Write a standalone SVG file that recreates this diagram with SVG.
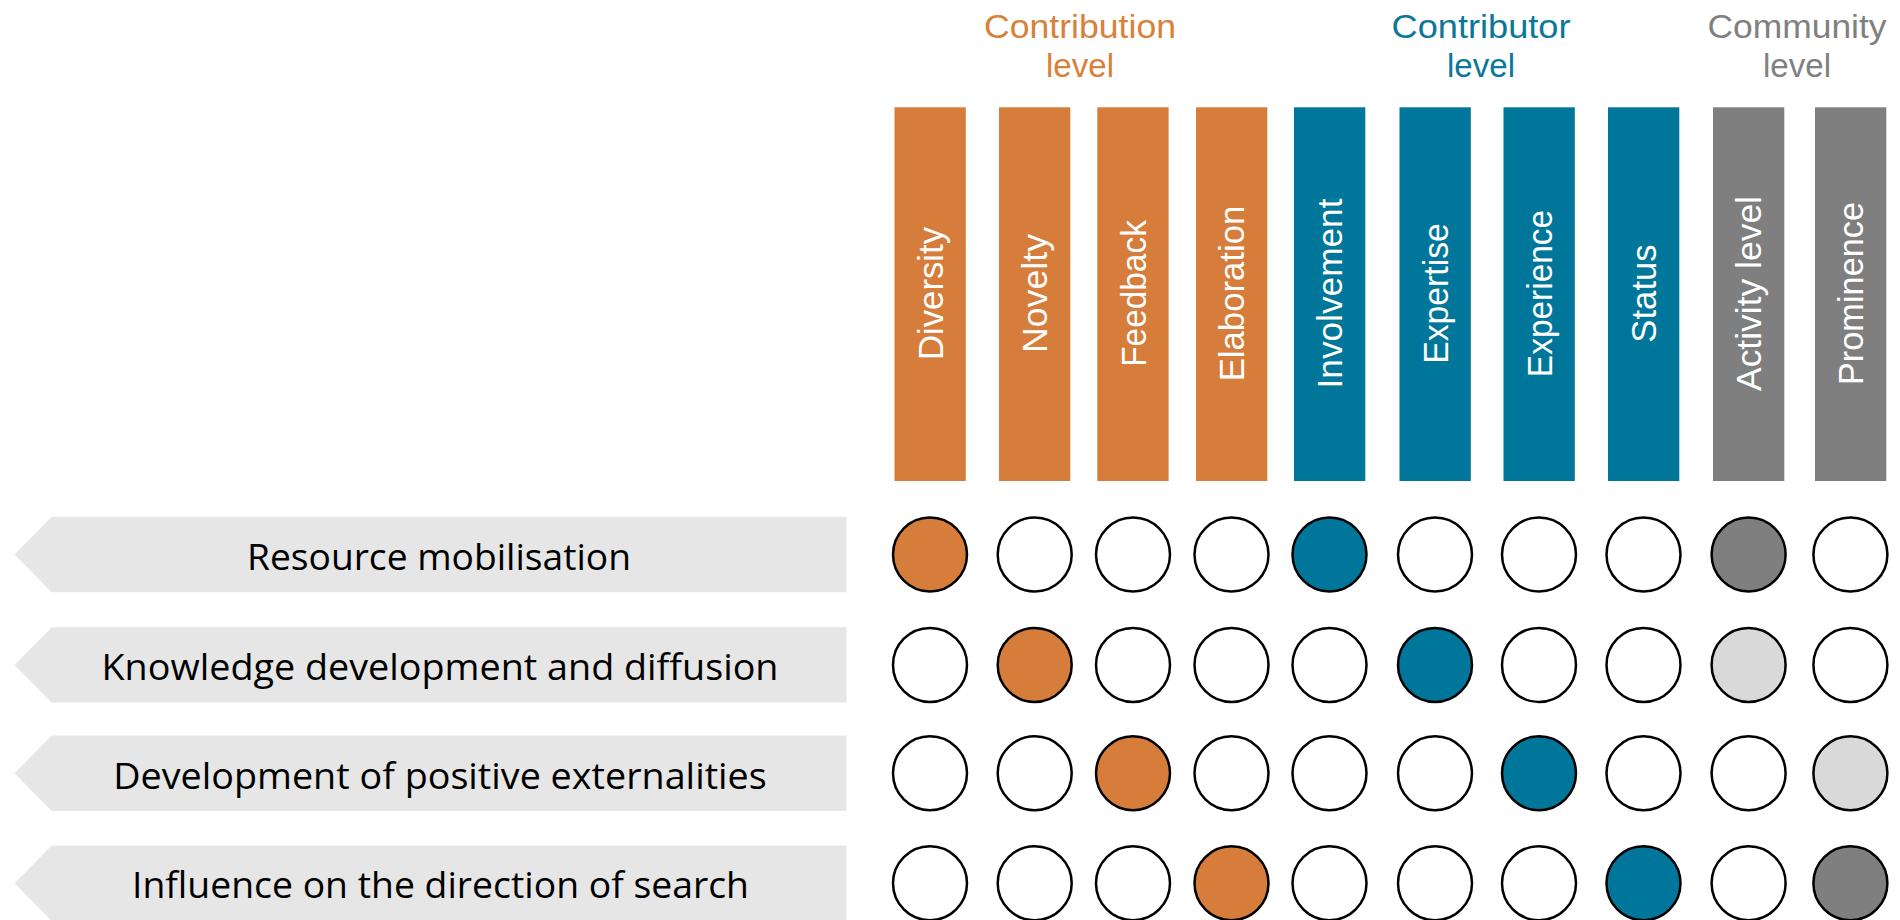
<svg xmlns="http://www.w3.org/2000/svg" width="1900" height="920" viewBox="0 0 1900 920">
<style>
  .bar-o { fill: #D67D3B; }
  .bar-t { fill: #00779A; }
  .bar-g { fill: #7F7F7F; }
  .vlab { font-family: "Liberation Sans", Arial, sans-serif; font-size: 35px; fill: #FFFFFF; text-anchor: middle; }
  .hdr { font-family: "Liberation Sans", Arial, sans-serif; font-size: 34px; text-anchor: middle; }
  .hdr-o { fill: #D98039; }
  .hdr-t { fill: #0B7799; }
  .hdr-g { fill: #808080; }
  .arrow { fill: #E6E6E6; }
  .rlab { font-family: "Open Sans", "Liberation Sans", sans-serif; font-size: 37px; fill: #000000; text-anchor: middle; }
  .dot { stroke: #000000; stroke-width: 2.5; fill: #FFFFFF; }
  .f-o { fill: #D67D3B; }
  .f-t { fill: #00779A; }
  .f-g { fill: #7F7F7F; }
  .f-l { fill: #D9D9D9; }
</style>

<g id="headers">
  <g id="hdr-contribution">
    <text class="hdr hdr-o"><tspan x="1080" y="37.7" textLength="192" lengthAdjust="spacingAndGlyphs">Contribution</tspan><tspan x="1080" y="76.7" textLength="68" lengthAdjust="spacingAndGlyphs">level</tspan></text>
  </g>
  <g id="hdr-contributor">
    <text class="hdr hdr-t"><tspan x="1481" y="37.7" textLength="179" lengthAdjust="spacingAndGlyphs">Contributor</tspan><tspan x="1481" y="76.7" textLength="68" lengthAdjust="spacingAndGlyphs">level</tspan></text>
  </g>
  <g id="hdr-community">
    <text class="hdr hdr-g"><tspan x="1797" y="37.7" textLength="179" lengthAdjust="spacingAndGlyphs">Community</tspan><tspan x="1797" y="76.7" textLength="68" lengthAdjust="spacingAndGlyphs">level</tspan></text>
  </g>
</g>

<g id="bars">
  <g id="bar-diversity">
    <rect class="bar-o" x="894.5" y="107.3" width="71.3" height="373.7"/>
    <text class="vlab" transform="translate(942.5,293.5) rotate(-90)" textLength="133" lengthAdjust="spacingAndGlyphs">Diversity</text>
  </g>
  <g id="bar-novelty">
    <rect class="bar-o" x="999" y="107.3" width="71.3" height="373.7"/>
    <text class="vlab" transform="translate(1047.2,293.5) rotate(-90)" textLength="119" lengthAdjust="spacingAndGlyphs">Novelty</text>
  </g>
  <g id="bar-feedback">
    <rect class="bar-o" x="1097.3" y="107.3" width="71.3" height="373.7"/>
    <text class="vlab" transform="translate(1145.5,293.5) rotate(-90)" textLength="146.7" lengthAdjust="spacingAndGlyphs">Feedback</text>
  </g>
  <g id="bar-elaboration">
    <rect class="bar-o" x="1196" y="107.3" width="71.3" height="373.7"/>
    <text class="vlab" transform="translate(1244,293.5) rotate(-90)" textLength="175.7" lengthAdjust="spacingAndGlyphs">Elaboration</text>
  </g>
  <g id="bar-involvement">
    <rect class="bar-t" x="1294" y="107.3" width="71.3" height="373.7"/>
    <text class="vlab" transform="translate(1342,293.5) rotate(-90)" textLength="190" lengthAdjust="spacingAndGlyphs">Involvement</text>
  </g>
  <g id="bar-expertise">
    <rect class="bar-t" x="1399.5" y="107.3" width="71.3" height="373.7"/>
    <text class="vlab" transform="translate(1447.5,293.5) rotate(-90)" textLength="140.7" lengthAdjust="spacingAndGlyphs">Expertise</text>
  </g>
  <g id="bar-experience">
    <rect class="bar-t" x="1503.5" y="107.3" width="71.3" height="373.7"/>
    <text class="vlab" transform="translate(1551.5,293.5) rotate(-90)" textLength="167.3" lengthAdjust="spacingAndGlyphs">Experience</text>
  </g>
  <g id="bar-status">
    <rect class="bar-t" x="1608" y="107.3" width="71.3" height="373.7"/>
    <text class="vlab" transform="translate(1656,293.5) rotate(-90)" textLength="98.3" lengthAdjust="spacingAndGlyphs">Status</text>
  </g>
  <g id="bar-activity">
    <rect class="bar-g" x="1713" y="107.3" width="71.3" height="373.7"/>
    <text class="vlab" transform="translate(1761,293.5) rotate(-90)" textLength="195" lengthAdjust="spacingAndGlyphs">Activity level</text>
  </g>
  <g id="bar-prominence">
    <rect class="bar-g" x="1815" y="107.3" width="71.3" height="373.7"/>
    <text class="vlab" transform="translate(1863,293.5) rotate(-90)" textLength="183" lengthAdjust="spacingAndGlyphs">Prominence</text>
  </g>
</g>

<g id="rows">
  <g id="row-resource">
    <polygon class="arrow" points="51.7,516.7 846.5,516.7 846.5,592.3 51.7,592.3 14.5,554.5"/>
    <text class="rlab" x="439" y="570" textLength="384" lengthAdjust="spacingAndGlyphs">Resource mobilisation</text>
  </g>
  <g id="row-knowledge">
    <polygon class="arrow" points="51.7,627.2 846.5,627.2 846.5,702.6 51.7,702.6 14.5,664.9"/>
    <text class="rlab" x="440" y="680" textLength="677" lengthAdjust="spacingAndGlyphs">Knowledge development and diffusion</text>
  </g>
  <g id="row-externalities">
    <polygon class="arrow" points="51.7,735.6 846.5,735.6 846.5,811 51.7,811 14.5,773.3"/>
    <text class="rlab" x="440" y="788.5" textLength="653.5" lengthAdjust="spacingAndGlyphs">Development of positive externalities</text>
  </g>
  <g id="row-direction">
    <polygon class="arrow" points="51.7,845.5 846.5,845.5 846.5,921 51.7,921 14.5,883.2"/>
    <text class="rlab" x="440.5" y="898.3" textLength="617" lengthAdjust="spacingAndGlyphs">Influence on the direction of search</text>
  </g>
</g>

<g id="matrix">
  <g id="dots-row1">
    <circle class="dot f-o" cx="930" cy="554.5" r="37"/>
    <circle class="dot" cx="1034.7" cy="554.5" r="37"/>
    <circle class="dot" cx="1133" cy="554.5" r="37"/>
    <circle class="dot" cx="1231.5" cy="554.5" r="37"/>
    <circle class="dot f-t" cx="1329.5" cy="554.5" r="37"/>
    <circle class="dot" cx="1435" cy="554.5" r="37"/>
    <circle class="dot" cx="1539" cy="554.5" r="37"/>
    <circle class="dot" cx="1643.5" cy="554.5" r="37"/>
    <circle class="dot f-g" cx="1748.6" cy="554.5" r="37"/>
    <circle class="dot" cx="1850.4" cy="554.5" r="37"/>
  </g>
  <g id="dots-row2">
    <circle class="dot" cx="930" cy="664.9" r="37"/>
    <circle class="dot f-o" cx="1034.7" cy="664.9" r="37"/>
    <circle class="dot" cx="1133" cy="664.9" r="37"/>
    <circle class="dot" cx="1231.5" cy="664.9" r="37"/>
    <circle class="dot" cx="1329.5" cy="664.9" r="37"/>
    <circle class="dot f-t" cx="1435" cy="664.9" r="37"/>
    <circle class="dot" cx="1539" cy="664.9" r="37"/>
    <circle class="dot" cx="1643.5" cy="664.9" r="37"/>
    <circle class="dot f-l" cx="1748.6" cy="664.9" r="37"/>
    <circle class="dot" cx="1850.4" cy="664.9" r="37"/>
  </g>
  <g id="dots-row3">
    <circle class="dot" cx="930" cy="773.3" r="37"/>
    <circle class="dot" cx="1034.7" cy="773.3" r="37"/>
    <circle class="dot f-o" cx="1133" cy="773.3" r="37"/>
    <circle class="dot" cx="1231.5" cy="773.3" r="37"/>
    <circle class="dot" cx="1329.5" cy="773.3" r="37"/>
    <circle class="dot" cx="1435" cy="773.3" r="37"/>
    <circle class="dot f-t" cx="1539" cy="773.3" r="37"/>
    <circle class="dot" cx="1643.5" cy="773.3" r="37"/>
    <circle class="dot" cx="1748.6" cy="773.3" r="37"/>
    <circle class="dot f-l" cx="1850.4" cy="773.3" r="37"/>
  </g>
  <g id="dots-row4">
    <circle class="dot" cx="930" cy="883.2" r="37"/>
    <circle class="dot" cx="1034.7" cy="883.2" r="37"/>
    <circle class="dot" cx="1133" cy="883.2" r="37"/>
    <circle class="dot f-o" cx="1231.5" cy="883.2" r="37"/>
    <circle class="dot" cx="1329.5" cy="883.2" r="37"/>
    <circle class="dot" cx="1435" cy="883.2" r="37"/>
    <circle class="dot" cx="1539" cy="883.2" r="37"/>
    <circle class="dot f-t" cx="1643.5" cy="883.2" r="37"/>
    <circle class="dot" cx="1748.6" cy="883.2" r="37"/>
    <circle class="dot f-g" cx="1850.4" cy="883.2" r="37"/>
  </g>
</g>
</svg>
